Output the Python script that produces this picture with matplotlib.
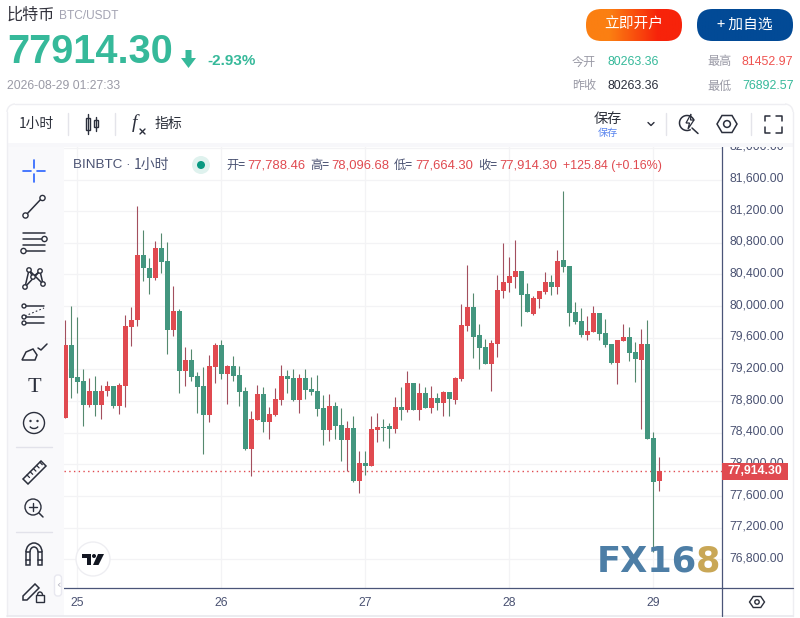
import numpy as np
import matplotlib
matplotlib.use("Agg")
import matplotlib.pyplot as plt
from matplotlib.patches import FancyBboxPatch, Rectangle, Circle, Polygon, Wedge, Arc
from matplotlib.transforms import ScaledTranslation

plt.rcParams['font.family'] = ['Noto Sans CJK SC', 'DejaVu Sans']

# ---------- data ----------
opens = [78586,79508,79104,79053,78750,78927,78750,78927,78990,78737,78990,79736,79825,80646,80482,80355,80735,80570,79698,79938,
         79180,79319,79117,78990,78624,79230,79508,79142,79243,79129,78927,78194,78560,78889,78535,78624,78813,79117,79091,78813,
         79091,78952,78927,78712,78434,78737,78497,78307,78459,77789,78017,77979,78434,78472,78484,78447,78725,78687,79028,78687,
         78902,78712,78838,78775,78914,78813,79079,79749,79989,79635,79483,79268,79521,80191,80292,80368,80444,80153,79900,80090,
         80178,80305,80241,80583,80507,79925,79811,79635,79672,79913,79660,79521,79281,79559,79609,79420,79318,79521,78332,77788.46]
closes = [79508,79091,79041,78750,78927,78750,78927,78990,78737,79003,79749,79825,80646,80482,80355,80735,80558,79698,79938,79180,
          79319,79104,78978,78624,79243,79508,79142,79243,79117,78914,78194,78573,78889,78535,78636,78826,79117,79079,78813,79091,
          78940,78914,78699,78434,78737,78484,78307,78459,77789,78017,77979,78447,78472,78459,78447,78725,78687,79028,78687,78902,
          78712,78838,78775,78914,78826,79091,79761,79989,79610,79471,79268,79534,80204,80305,80381,80444,80140,79925,80102,80191,
          80305,80241,80570,80494,79913,79799,79635,79685,79913,79647,79508,79281,79571,79609,79407,79331,79521,78320,77776,77914.30]
highs = [79825,80002,79862,79205,79091,79117,79003,79053,78990,79028,79888,79989,81266,80962,80608,80823,80924,80811,80254,79964,
         79483,79458,79167,79230,79382,79534,79572,79256,79369,79243,78978,78674,79003,78978,78725,78965,79256,79192,79205,79142,
         79205,79104,79129,78876,78889,78788,78712,78548,78611,78168,78168,78611,78649,78573,78522,78851,78978,79180,79028,79028,
         78978,78990,78902,78927,78914,79104,80027,80520,80166,79774,79584,79572,80393,80798,80621,80836,80444,80292,80128,80191,
         80431,80393,80709,81452.97,80507,80052,79976,79875,80001,79913,79837,79521,79571,79774,79736,79546,79710,79824,78408,78096.68]
lows = [78586,78838,78902,78484,78725,78611,78573,78864,78712,78636,78725,79496,79749,80318,80153,80330,80419,79395,79622,78902,
        78990,79053,78649,78130,78535,79028,79079,78763,79053,78737,78181,77852,78560,78409,78320,78611,78750,78902,78801,78649,
        78826,78876,78611,78244,78295,78320,78042,77916,77777,77637,77865,77979,78282,78295,78206,78396,78560,78661,78687,78560,
        78712,78649,78687,78611,78611,78763,79053,79685,79344,79205,79268,78927,79357,80103,80179,80229,79748,79925,79887,79976,
        80153,80140,80153,80431,79748,79774,79609,79571,79672,79571,79483,79268,79015,79559,79306,79040,78446,78320,76892.57,77664.30]
day_index = [2, 26, 50, 74, 98]
day_labels = ['25', '26', '27', '28', '29']
price_ticks = [76800 + 400 * k for k in range(14)]
last_price = 77914.30

# ---------- palette ----------
UP, UPW = '#e04a50', '#a34f5e'
DN, DNW = '#43967f', '#55896e'
AX = '#4a5578'
TXT = '#4a5272'
GRID = '#f3f3f5'
GREEN = '#36b99a'
GREY = '#9a9aa6'
INK = '#2b2f3c'

fig = plt.figure(figsize=(8, 6.18), dpi=100, facecolor='white')

# ---------- chart ----------
ax = fig.add_axes([64/800, (618-588)/618, (722-64)/800, (588-147)/618])
ax.set_xlim(-0.217, 109.45)
ax.set_ylim(76436, 82011)
ax.set_facecolor('white')
ax.set_axisbelow(True)
ax.grid(True, color=GRID, lw=0.9)
for s in ['top', 'left']:
    ax.spines[s].set_visible(False)
for s in ['right', 'bottom']:
    ax.spines[s].set_color(AX)
    ax.spines[s].set_linewidth(0.9)
ax.yaxis.tick_right()
ax.set_yticks(price_ticks)
ax.set_yticklabels([f'{p:,.2f}' for p in price_ticks], fontfamily='Liberation Sans', fontsize=8.7, color=TXT)
ax.set_xticks(day_index)
ax.set_xticklabels(day_labels, fontfamily='Liberation Sans', fontsize=8.7, color=TXT)
ax.tick_params(axis='y', length=0, pad=5.5)
ax.tick_params(axis='x', length=0, pad=6.5)
lift = ScaledTranslation(0, 2.4/100, fig.dpi_scale_trans)
for lb in ax.get_yticklabels():
    lb.set_transform(lb.get_transform() + lift)

xs = np.arange(len(opens))
o, c, h, l = map(np.array, (opens, closes, highs, lows))
up = c >= o
ax.vlines(xs[up], l[up], h[up], color=UPW, lw=0.8, zorder=3)
ax.vlines(xs[~up], l[~up], h[~up], color=DNW, lw=0.8, zorder=3)
ax.bar(xs[up], (c-o)[up], bottom=o[up], width=0.82, color=UP, zorder=4)
ax.bar(xs[~up], (o-c)[~up], bottom=c[~up], width=0.82, color=DN, zorder=4)
ax.axhline(last_price, color=UP, lw=1, ls=(0, (1, 2.4)), zorder=2)

# ---------- overlay in pixel coordinates ----------
ov = fig.add_axes([0, 0, 1, 1], zorder=5)
ov.patch.set_alpha(0)
ov.set_axis_off()


def T(x, y, s, size=9, color=INK, ha='left', weight='normal', fam=None):
    ov.text(x, y, s, fontsize=size, color=color, ha=ha, va='center', fontweight=weight,
            family=fam if fam else ['Noto Sans CJK SC', 'DejaVu Sans'])


def L(xs_, ys_, color=INK, lw=1.1, **k):
    ov.plot(xs_, ys_, color=color, lw=lw, solid_capstyle='round', **k)


def O(x, y, r=2.6, color=INK, lw=1.0, fc='white'):
    ov.add_patch(Circle((x, y), r, fc=fc, ec=color, lw=lw, zorder=6))


# header and borders
ov.add_patch(Rectangle((0, 0), 800, 143, fc='white', ec='none'))
ov.add_patch(Rectangle((7, 143), 786, 4, fc='#f7f7fa', ec='none'))
ov.add_patch(Rectangle((0, 147), 7, 471, fc='white', ec='none'))
ov.add_patch(Rectangle((793, 104), 7, 514, fc='white', ec='none'))
ov.add_patch(Rectangle((8, 147), 56, 469, fc='#f9f9fb', ec='none'))
ov.add_patch(Rectangle((7, 616), 786, 2, fc='white', ec='none'))
L([7, 7], [112, 616], '#eeeef2', 1)
L([793, 793], [112, 616], '#eeeef2', 1)
L([15, 785], [104, 104], '#eeeef2', 1)
L([7, 793], [616, 616], '#e9e9ee', 1.2)
ov.add_patch(Arc((15, 112), 16, 16, theta1=180, theta2=270, ec='#eeeef2', lw=1))
ov.add_patch(Arc((785, 112), 16, 16, theta1=270, theta2=360, ec='#eeeef2', lw=1))
L([722, 722], [588, 616], AX, 0.9)
L([722, 793], [588, 588], AX, 0.9)

T(7, 15, '比特币', 11.6, '#33333d')
T(59, 16, 'BTC/USDT', 8.6, '#a3a3b2', fam='Liberation Sans')
T(7, 52, '77914.30', 28.5, GREEN, weight='bold', fam='Liberation Sans')
ov.add_patch(Polygon([[185.5, 50], [191.5, 50], [191.5, 58], [196, 58], [188.5, 68], [181, 58], [185.5, 58]], fc=GREEN, ec='none'))
T(207, 61, '-2.93%', 11, GREEN, weight='bold', fam='Liberation Sans')
T(7, 86, '2026-08-29 01:27:33', 8.7, GREY, fam='Liberation Sans')


def button(x0, x1, y0, y1, grad):
    p = FancyBboxPatch((x0, y0), x1-x0, y1-y0, boxstyle='round,pad=0,rounding_size=15.5', fc='none', ec='none')
    ov.add_patch(p)
    im = ov.imshow(grad, extent=(x0, x1, y1, y0), aspect='auto', zorder=3, interpolation='bilinear')
    im.set_clip_path(p)


def rgb(h_):
    return [int(h_[i:i+2], 16)/255 for i in (1, 3, 5)]


button(586, 682, 9, 41, np.array([[rgb('#fb7f12'), rgb('#f7230a')]]))
button(697, 793, 9, 41, np.array([[rgb('#024a96'), rgb('#024a96')]]))
T(634, 25, '立即开户', 10.6, 'white', ha='center')
T(745, 25, '+ 加自选', 10.6, 'white', ha='center')

T(572, 62, '今开', 8.7, GREY)
T(607, 62, '80263.36', 8.9, GREEN, fam='Liberation Sans')
T(707, 62, '最高', 8.7, GREY)
T(742, 62, '81452.97', 8.9, '#ef5350', fam='Liberation Sans')
T(572, 86, '昨收', 8.7, GREY)
T(607, 86, '80263.36', 8.9, INK, fam='Liberation Sans')
T(707, 86, '最低', 8.7, GREY)
T(742, 86, '76892.57', 8.9, GREEN, fam='Liberation Sans')

# top toolbar
T(19, 124, '1小时', 9.9, '#2a2e39')
L([67.5, 67.5], [113, 135], '#e4e4ea', 1)
L([114.5, 114.5], [113, 135], '#e4e4ea', 1)
ov.add_patch(Rectangle((86, 118), 4, 12, fc='white', ec=INK, lw=1))
L([88, 88], [114, 134], INK, 1)
ov.add_patch(Rectangle((94, 120), 4, 7, fc='white', ec=INK, lw=1))
L([96, 96], [117, 131], INK, 1)
ov.text(134, 123, 'f', fontsize=14, color=INK, ha='center', va='center', family='Liberation Serif', style='italic')
L([140, 145], [129, 134], INK, 1)
L([145, 140], [129, 134], INK, 1)
T(155, 124, '指标', 10, '#2a2e39')
T(608, 119, '保存', 10.2, '#2a2e39', ha='center')
T(608, 133, '保存', 7.3, '#5b86ef', ha='center')
L([648, 651, 654], [122.5, 125.5, 122.5], INK, 1)
L([665.5, 665.5], [113, 135], '#e4e4ea', 1)
L([750.5, 750.5], [113, 135], '#e4e4ea', 1)
ov.add_patch(Arc((687, 123), 15, 15, theta1=60, theta2=340, ec=INK, lw=1.1))
ov.add_patch(Polygon([[691, 114], [686, 123], [689.5, 123], [688, 129], [694, 120], [690.5, 120]], fc='white', ec=INK, lw=0.9, zorder=6))
L([692, 698], [128, 133.5], INK, 1.1)


def hexagon(cx, cy, rx, ry, lw=1.1):
    ov.add_patch(Polygon([[cx-rx, cy], [cx-rx/2, cy-ry], [cx+rx/2, cy-ry], [cx+rx, cy], [cx+rx/2, cy+ry], [cx-rx/2, cy+ry]],
                         fc='none', ec=INK, lw=lw))
    ov.add_patch(Circle((cx, cy), ry*0.4, fc='none', ec=INK, lw=lw))


hexagon(727, 124, 10, 8.5)
for sx, sy in [(-1, -1), (1, -1), (-1, 1), (1, 1)]:
    L([773+sx*8.5, 773+sx*8.5, 773+sx*3], [124+sy*3, 124+sy*8.5, 124+sy*8.5], INK, 1.1)

# legend row
T(73, 165.5, 'BINBTC ·', 9.6, TXT, fam='Liberation Sans')
T(134, 165, '1小时', 10.0, TXT)
ov.add_patch(Circle((201, 165), 9, fc='#dff2ee', ec='none'))
ov.add_patch(Circle((201, 165), 4, fc='#089981', ec='none'))
for xl, lab, xv, val in [(226, '开=', 247, '77,788.46'), (310, '高=', 331, '78,096.68'),
                         (394, '低=', 415, '77,664.30'), (478, '收=', 499, '77,914.30')]:
    T(xl, 165.5, lab, 8.8, TXT)
    T(xv, 165.5, val, 9.4, UP, fam='Liberation Sans')
T(563, 165.5, '+125.84 (+0.16%)', 8.9, UP, fam='Liberation Sans')

# last-price tag
ytag = 464.3 + (78000 - last_price) * 0.0791
ov.add_patch(Rectangle((722, ytag-8.5), 66, 17, fc=UP, ec='none', zorder=6))
ov.text(755, ytag, f'{last_price:,.2f}', fontsize=8.8, color='white', ha='center', va='center', fontweight='bold',
        family='Liberation Sans', zorder=7)

# x-axis settings glyph
hexagon(757, 602, 7.5, 5.5, 1)

# chart logo (drawn mark, no text in the reference)
ov.add_patch(Circle((93, 559), 17, fc='white', ec='#eeeef2', lw=1))
ov.add_patch(Polygon([[82, 554], [91, 554], [91, 565], [87, 565], [87, 558], [82, 558]], fc='#131722', ec='none'))
ov.add_patch(Circle((94, 556), 2, fc='#131722', ec='none'))
ov.add_patch(Polygon([[98, 554], [104, 554], [98.5, 565], [93, 565]], fc='#131722', ec='none'))

# FX168 watermark
T(597, 561.5, 'FX16', 25.4, '#4d7ea6', weight='bold', fam='DejaVu Sans')
T(696, 561.5, '8', 25.4, '#c9a756', weight='bold', fam='DejaVu Sans')

# left drawing tools
bl = '#2962ff'
L([23, 31], [171, 171], bl, 1.2); L([37, 45], [171, 171], bl, 1.2)
L([34, 34], [160, 168], bl, 1.2); L([34, 34], [174, 182], bl, 1.2)
L([26, 42], [215, 198], INK); O(25.5, 215.5); O(42.5, 198)
for yy in [233, 239, 245, 251]:
    L([23, 45], [yy, yy], INK)
O(44.5, 239); O(23.5, 251)
L([25, 29, 33, 40, 43], [287, 270, 277, 271, 284], INK); L([25, 40], [287, 271], INK); L([29, 43], [270, 284], INK)
for a, b in [(25, 287), (29, 270), (33, 277), (40, 271), (43, 284)]:
    O(a, b, 2.2)
L([24, 44], [306, 306], INK); L([24, 44], [323, 323], INK); L([24, 44], [317, 317], INK)
ov.plot([25, 44], [316, 308], color=INK, lw=0.8, ls=(0, (1.5, 2)))
for a, b in [(24, 306), (24, 317), (24, 323)]:
    O(a, b, 2.0)
ov.add_patch(Polygon([[22, 360], [26, 352], [33, 349], [37, 355], [35, 360]], fc='none', ec=INK, lw=1.1))
L([38, 41, 47], [348, 350, 344], INK)
ov.text(34, 387, 'T', fontsize=16, color=INK, ha='center', va='center', family='Liberation Serif')
O(34, 423, 10.5, fc='none')
O(30.5, 421, 0.5); O(37.5, 421, 0.5)
ov.add_patch(Arc((34, 425), 9, 7, theta1=20, theta2=160, ec=INK, lw=1))
L([16, 52], [447, 447], '#e2e2ea', 1)
ov.add_patch(Polygon([[23, 479], [41, 461], [46, 466], [28, 484]], fc='none', ec=INK, lw=1.1))
for k in range(5):
    L([27+k*3.2, 29.5+k*3.2], [475-k*3.2, 477.5-k*3.2], INK, 0.9)
O(33, 507, 8, fc='none')
L([29, 37], [507, 507], INK, 1); L([33, 33], [503, 511], INK, 1); L([39, 43], [513, 517], INK)
L([16, 52], [532, 532], '#e2e2ea', 1)
ov.add_patch(Arc((34, 552), 16, 18, theta1=180, theta2=360, ec=INK, lw=1.1))
ov.add_patch(Arc((34, 552), 8, 10, theta1=180, theta2=360, ec=INK, lw=1.1))
ov.add_patch(Rectangle((26, 552), 4, 13, fc='none', ec=INK, lw=1.1))
ov.add_patch(Rectangle((38, 552), 4, 13, fc='none', ec=INK, lw=1.1))
L([26, 30], [560, 560], INK); L([38, 42], [560, 560], INK)
ov.add_patch(Polygon([[23, 596], [35, 584], [39, 588], [27, 600], [23, 600]], fc='none', ec=INK, lw=1.1))
ov.add_patch(Rectangle((36, 595), 8, 7, fc='#f9f9fb', ec=INK, lw=1))
ov.add_patch(Arc((40, 595), 5, 6, theta1=180, theta2=360, ec=INK, lw=1))
ov.add_patch(FancyBboxPatch((54.5, 575), 7, 21, boxstyle='round,pad=0,rounding_size=3', fc='white', ec='#e8e8f0', lw=1))
T(58, 585, '‹', 8, '#b4b4c0', ha='center', fam='DejaVu Sans')

ov.set_xlim(0, 800)
ov.set_ylim(618, 0)
fig.savefig('out.png', dpi=100, facecolor='white')
